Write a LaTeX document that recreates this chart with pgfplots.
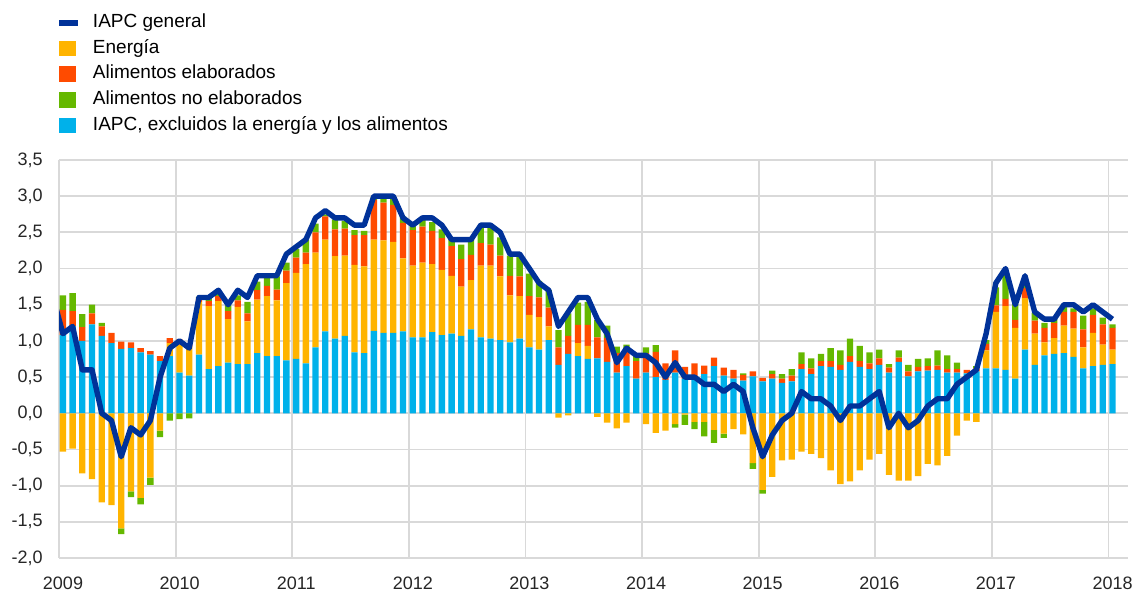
\documentclass[border=0pt]{standalone}
\usepackage{pgfplots}
\pgfplotsset{compat=1.18}
\usepackage{pgfplotstable}
\usepackage{fontspec}
\setmainfont{Liberation Sans}

\definecolor{ecbblue}{HTML}{003299}
\definecolor{energy}{HTML}{FFB400}
\definecolor{procfood}{HTML}{FF4B00}
\definecolor{unprocfood}{HTML}{65B800}
\definecolor{core}{HTML}{00B1EA}
\definecolor{gridgray}{HTML}{D9D9D9}

% k = months since Jan 2009; contributions in percentage points, positive and negative parts apart
\pgfplotstableread{
k core enp proc unp enn unn hicp
-1 0 0 0 0 0 0 1.6
0 1.08 0 0.35 0.20 -0.53 0 1.1
1 1.20 0 0.21 0.25 -0.49 0 1.2
2 1.00 0 0.19 0.18 -0.83 0 0.6
3 1.23 0 0.15 0.12 -0.91 0 0.6
4 1.07 0 0.13 0.05 -1.23 0 0.0
5 0.97 0 0.14 0 -1.27 0 -0.1
6 0.89 0 0.10 0 -1.59 -0.08 -0.6
7 0.90 0 0.08 0 -1.08 -0.08 -0.2
8 0.84 0 0.06 0 -1.17 -0.09 -0.3
9 0.81 0 0.05 0 -0.89 -0.10 -0.1
10 0.72 0 0.07 0 -0.24 -0.09 0.5
11 0.79 0.18 0.07 0 0 -0.10 0.9
12 0.56 0.39 0.07 0 0 -0.08 1.0
13 0.52 0.40 0.04 0 0 -0.07 0.9
14 0.81 0.73 0.05 0.02 0 0 1.6
15 0.61 0.87 0.07 0.07 0 0 1.6
16 0.65 0.90 0.07 0.03 0 0 1.7
17 0.70 0.60 0.11 0.08 0 0 1.5
18 0.68 0.79 0.09 0.07 0 0 1.7
19 0.68 0.59 0.11 0.16 0 0 1.6
20 0.83 0.74 0.13 0.12 0 0 1.9
21 0.79 0.83 0.14 0.13 0 0 1.9
22 0.79 0.77 0.15 0.18 0 0 1.9
23 0.73 1.07 0.17 0.11 0 0 2.2
24 0.75 1.19 0.21 0.12 0 0 2.3
25 0.69 1.37 0.16 0.18 0 0 2.4
26 0.91 1.31 0.28 0.12 0 0 2.7
27 1.13 1.27 0.32 0.03 0 0 2.8
28 1.03 1.14 0.37 0.14 0 0 2.7
29 1.07 1.11 0.37 0.11 0 0 2.7
30 0.84 1.21 0.41 0.07 0 0 2.6
31 0.83 1.20 0.43 0.06 0 0 2.6
32 1.14 1.26 0.55 0.04 0 0 3.0
33 1.11 1.28 0.52 0.08 0 0 3.0
34 1.11 1.26 0.51 0.10 0 0 3.0
35 1.13 1.01 0.49 0.09 0 0 2.7
36 1.05 0.99 0.49 0.09 0 0 2.6
37 1.05 1.03 0.50 0.10 0 0 2.7
38 1.12 0.94 0.46 0.12 0 0 2.7
39 1.08 0.90 0.44 0.12 0 0 2.6
40 1.10 0.80 0.41 0.12 0 0 2.4
41 1.07 0.68 0.38 0.20 0 0 2.4
42 1.16 0.68 0.35 0.21 0 0 2.4
43 1.05 0.99 0.31 0.21 0 0 2.6
44 1.03 1.01 0.29 0.23 0 0 2.6
45 1.01 0.88 0.29 0.25 0 0 2.5
46 0.98 0.65 0.27 0.28 0 0 2.2
47 1.03 0.59 0.27 0.28 0 0 2.2
48 0.91 0.45 0.26 0.31 0 0 2.0
49 0.88 0.45 0.27 0.23 0 0 1.8
50 1.01 0.19 0.26 0.24 0 0 1.7
51 0.67 0 0.24 0.24 -0.06 0 1.2
52 0.82 0 0.25 0.31 -0.03 0 1.4
53 0.79 0.18 0.25 0.31 0 0 1.6
54 0.75 0.18 0.29 0.32 0 0 1.6
55 0.76 0 0.29 0.24 -0.05 0 1.3
56 0.71 0 0.33 0.17 -0.13 0 1.1
57 0.56 0 0.27 0.09 -0.21 0 0.7
58 0.65 0 0.25 0.05 -0.13 0 0.9
59 0.48 0 0.24 0.08 0 0 0.8
60 0.56 0 0.27 0.08 -0.15 0 0.8
61 0.50 0 0.35 0.09 -0.27 0 0.7
62 0.46 0 0.23 0 -0.24 0 0.5
63 0.56 0 0.31 0 -0.15 -0.05 0.7
64 0.48 0 0.16 0 -0.02 -0.14 0.5
65 0.48 0 0.21 0 -0.12 -0.10 0.5
66 0.54 0 0.12 0 -0.12 -0.20 0.4
67 0.65 0 0.12 0 -0.23 -0.18 0.4
68 0.52 0 0.11 0 -0.28 -0.06 0.3
69 0.48 0 0.12 0 -0.22 0 0.4
70 0.45 0 0.08 0.02 -0.29 0 0.3
71 0.51 0 0.07 0 -0.69 -0.08 -0.2
72 0.44 0 0.05 0 -1.06 -0.05 -0.6
73 0.48 0 0.06 0.05 -0.88 0 -0.3
74 0.42 0 0.06 0.06 -0.65 0 -0.1
75 0.44 0 0.08 0.09 -0.64 0 0.0
76 0.61 0 0.07 0.16 -0.53 0 0.3
77 0.54 0 0.08 0.14 -0.56 0 0.2
78 0.65 0 0.07 0.10 -0.62 0 0.2
79 0.64 0 0.08 0.18 -0.79 0 0.1
80 0.60 0 0.07 0.20 -0.98 0 -0.1
81 0.71 0 0.08 0.24 -0.94 0 0.1
82 0.64 0 0.08 0.21 -0.79 0 0.1
83 0.61 0 0.08 0.15 -0.64 0 0.2
84 0.67 0 0.09 0.12 -0.56 0 0.3
85 0.56 0 0.07 0.05 -0.85 0 -0.2
86 0.71 0 0.06 0.10 -0.93 0 0.0
87 0.51 0 0.07 0.09 -0.93 0 -0.2
88 0.58 0 0.06 0.11 -0.87 0 -0.1
89 0.59 0 0.06 0.11 -0.70 0 0.1
90 0.60 0 0.06 0.21 -0.72 0 0.2
91 0.56 0 0.05 0.19 -0.59 0 0.2
92 0.56 0 0.05 0.09 -0.31 0 0.4
93 0.55 0 0.05 0 -0.10 0 0.5
94 0.58 0 0.04 0.03 -0.12 0 0.6
95 0.62 0.25 0.09 0.05 0 0 1.1
96 0.62 0.78 0.09 0.25 0 0 1.8
97 0.60 0.88 0.10 0.34 0 0 2.0
98 0.48 0.70 0.11 0.22 0 0 1.5
99 0.88 0.71 0.14 0.05 0 0 1.9
100 0.67 0.43 0.18 0.11 0 0 1.4
101 0.80 0.18 0.20 0.07 0 0 1.3
102 0.82 0.22 0.21 0.05 0 0 1.3
103 0.83 0.38 0.19 0.07 0 0 1.5
104 0.78 0.39 0.23 0.05 0 0 1.5
105 0.62 0.29 0.25 0.19 0 0 1.4
106 0.65 0.46 0.25 0.09 0 0 1.5
107 0.67 0.28 0.28 0.09 0 0 1.4
108 0.68 0.20 0.30 0.05 0 0 1.3
}\hicp

\pgfplotsset{
  base/.style={
    scale only axis, width=534.5pt, height=199pt,
    at={(0,0)}, anchor=south west,
    xmin=0, xmax=110, ymin=-2, ymax=3.5,
    enlargelimits=false,
  },
}

\begin{document}
\begin{tikzpicture}
% positive parts + grid + ticks
\begin{axis}[base, name=main,
    ybar stacked, bar width=0.65,
    axis line style={draw=none}, major tick length=0pt,
    xmajorgrids, ymajorgrids,
    grid style={gridgray, line width=0.9pt},
    xtick={0,12,...,108},
    xticklabels={2009,2010,2011,2012,2013,2014,2015,2016,2017,2018},
    ytick={-2,-1.5,...,3.5},
    tick label style={font=\fontsize{9}{10}\selectfont, text=black!85},
    xticklabel style={anchor=north, inner sep=0pt, yshift=-9.5pt, xshift=2pt},
    yticklabel style={anchor=east, inner sep=0pt, xshift=-8pt,
      /pgf/number format/.cd, fixed, fixed zerofill, precision=1, use comma, assume math mode=true},
  ]
  \addplot[fill=core, draw=none] table[x expr=\thisrow{k}+0.4, y=core]{\hicp};
  \addplot[fill=energy, draw=none] table[x expr=\thisrow{k}+0.4, y=enp]{\hicp};
  \addplot[fill=procfood, draw=none] table[x expr=\thisrow{k}+0.4, y=proc]{\hicp};
  \addplot[fill=unprocfood, draw=none] table[x expr=\thisrow{k}+0.4, y=unp]{\hicp};
\end{axis}
% negative parts
\begin{axis}[base, hide axis, ybar stacked, bar width=0.65]
  \addplot[fill=energy, draw=none] table[x expr=\thisrow{k}+0.4, y=enn]{\hicp};
  \addplot[fill=unprocfood, draw=none] table[x expr=\thisrow{k}+0.4, y=unn]{\hicp};
\end{axis}
% headline line + legend
\begin{axis}[base, hide axis,
    legend cell align=left,
    legend style={draw=none, fill=none, at={(0,1)}, anchor=north west,
      xshift=-1.5pt, yshift=74pt, inner sep=0pt, outer sep=0pt,
      row sep=2.15pt, column sep=5pt,
      nodes={inner sep=1pt, text height=6.8pt, text depth=1.9pt},
      font=\fontsize{9.5}{11}\selectfont},
  ]
  \addplot[ecbblue, line width=2.7pt, line join=round,
    legend image code/.code={\draw[ecbblue, line width=3pt] (0pt,0pt) -- (9.5pt,0pt);}]
    table[x expr=\thisrow{k}+0.4, y=hicp]{\hicp};
  \addlegendentry{IAPC general}
  \addlegendimage{legend image code/.code={\fill[energy] (0pt,-3.7pt) rectangle (8pt,3.7pt);}}
  \addlegendentry{Energía}
  \addlegendimage{legend image code/.code={\fill[procfood] (0pt,-3.7pt) rectangle (8pt,3.7pt);}}
  \addlegendentry{Alimentos elaborados}
  \addlegendimage{legend image code/.code={\fill[unprocfood] (0pt,-3.7pt) rectangle (8pt,3.7pt);}}
  \addlegendentry{Alimentos no elaborados}
  \addlegendimage{legend image code/.code={\fill[core] (0pt,-3.7pt) rectangle (8pt,3.7pt);}}
  \addlegendentry{IAPC, excluidos la energía y los alimentos}
\end{axis}
\pgfresetboundingbox
\path[use as bounding box] ([xshift=-29.5pt,yshift=-17pt]main.south west) rectangle ([xshift=6pt,yshift=80pt]main.north east);
\end{tikzpicture}
\end{document}
